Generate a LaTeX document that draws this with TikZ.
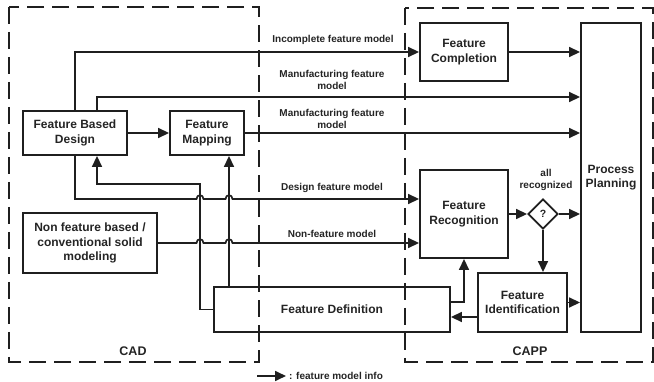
\documentclass[tikz,border=0pt]{standalone}
\usepackage{fontspec}
\setmainfont{Liberation Sans}
\usetikzlibrary{arrows.meta,shapes.geometric}
\definecolor{ink}{gray}{0.12}
\definecolor{txt}{gray}{0.14}

\begin{document}
\begin{tikzpicture}[x=1pt,y=-1pt,
  box/.style={draw=ink, line width=1.9pt, align=center, inner sep=0pt,
    font=\bfseries\fontsize{12}{14.5}\selectfont, text=txt},
  flow/.style={draw=ink, line width=1.7pt, -{Triangle[length=11pt,width=10pt]}},
  region/.style={draw=ink, line width=1.9pt, dash pattern=on 17pt off 8pt},
  lbl/.style={font=\bfseries\fontsize{10}{12.5}\selectfont, text=txt, align=center, inner sep=0pt},
  zone/.style={font=\bfseries\fontsize{12.5}{15}\selectfont, text=txt, inner sep=0pt},
]
\useasboundingbox (0,0) rectangle (654,382);

% system boundaries
\draw[region] (9,7) rectangle (259,362);
\draw[region] (405,8) rectangle (653,362);
\node[zone] (cad) at (133,351) {CAD};
\node[zone] (capp) at (530,351) {CAPP};

% blocks
\node[box, minimum width=104pt, minimum height=44pt] (fbd) at (75,133) {Feature Based\\Design};
\node[box, minimum width=74pt, minimum height=44pt] (fm) at (207,133) {Feature\\Mapping};
\node[box, minimum width=134pt, minimum height=60pt] (nf) at (90,243) {Non feature based /\\conventional solid\\modeling};
\node[box, minimum width=88pt, minimum height=58pt] (fc) at (464,52) {Feature\\Completion};
\node[box, minimum width=88pt, minimum height=88pt] (fr) at (464,214) {Feature\\Recognition};
\node[box, minimum width=60pt, minimum height=309pt] (pp) at (611,177.5) {Process\\Planning};
\node[box, minimum width=89pt, minimum height=59pt] (fi) at (522.5,302.5) {Feature\\Identification};
\node[box, minimum width=236pt, minimum height=45pt] (fd) at (332,309.5) {Feature Definition};
\node[box, diamond, minimum width=30pt, minimum height=30pt, font=\bfseries\fontsize{10.5}{12}\selectfont] (dia) at (543,214) {?};

% routing columns and rows
\coordinate (tapA) at (97,97);
\coordinate (colB) at (200,184);
\coordinate (colC) at (229,184);

% connectors
\draw[flow] (fbd.north) |- (fc.west);
\draw[flow] (fbd.north -| tapA) |- (pp.west |- tapA);
\draw[flow] (fbd.east) -- (fm.west);
\draw[flow] (fm.east) -- (pp.west |- fm.east);
\draw[flow] (fc.east) -- (pp.west |- fc.east);

% design feature model, hopping over the two feedback lines
\draw[flow] (fbd.south) -- (75,199) -- (196.5,199)
  .. controls (196.5,194) and (203.5,194) .. (203.5,199) -- (225.5,199)
  .. controls (225.5,194) and (232.5,194) .. (232.5,199) -- (fr.west |- 0,199);
% non-feature model
\draw[flow] (nf.east) -- (196.5,243)
  .. controls (196.5,238) and (203.5,238) .. (203.5,243) -- (225.5,243)
  .. controls (225.5,238) and (232.5,238) .. (232.5,243) -- (fr.west |- nf.east);

% feedback from feature definition
\draw[flow] (fd.west) -| (colB) -| (fbd.south -| tapA);
\draw[flow] (fd.north -| colC) -- (fm.south -| colC);
\draw[flow] ([yshift=7.5pt]fd.east) -| (fr.south);
\draw[flow] ([yshift=-14.5pt]fi.west) coordinate (q) -- (fd.east |- q);

% recognition check
\draw[flow] (fr.east) -- (dia.west);
\draw[flow] (dia.east) -- (pp.west |- dia.east);
\draw[flow] (dia.south) -- (fi.north -| dia.south);
\draw[flow] (fi.east) -- (pp.west |- fi.east);

% connector labels
\node[lbl] (l1) at (333,40) {Incomplete feature model};
\node[lbl] (l2) at (332,80) {Manufacturing feature\\model};
\node[lbl] (l3) at (332,119) {Manufacturing feature\\model};
\node[lbl] (l4) at (332,188) {Design feature model};
\node[lbl] (l5) at (332,234) {Non-feature model};
\node[lbl] (l6) at (546,180) {all\\recognized};

% legend
\coordinate (lgA) at (257,376);
\coordinate (lgB) at (286,376);
\draw[flow] (lgA) -- (lgB);
\node[lbl, anchor=west] (lgt) at (289,376) {: feature model info};
\end{tikzpicture}
\end{document}
